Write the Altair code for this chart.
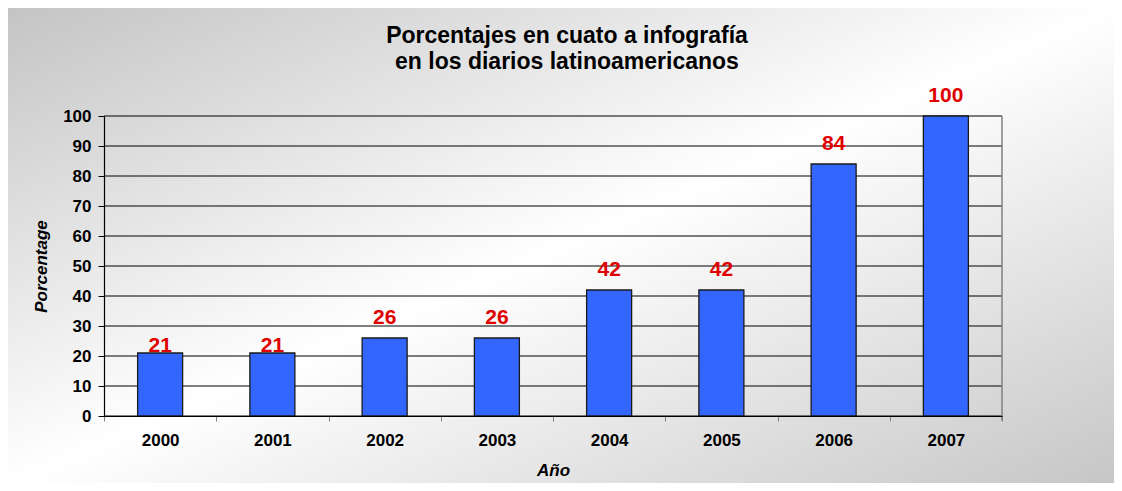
import altair as alt
import pandas as pd

years = ["2000", "2001", "2002", "2003", "2004", "2005", "2006", "2007"]
values = [21, 21, 26, 26, 42, 42, 84, 100]
y_ticks = [0, 10, 20, 30, 40, 50, 60, 70, 80, 90, 100]
title_lines = ["Porcentajes en cuato a infografía", "en los diarios latinoamericanos"]
y_title = "Porcentage"
x_title = "Año"

df = pd.DataFrame({"year": years, "value": values})
grid_df = pd.DataFrame({"value": y_ticks})
one = pd.DataFrame({"k": [0]})

FONT = "Liberation Sans"
W, H = 898, 300

gradient = alt.LinearGradient(
    gradient="linear", x1=0, y1=0, x2=1, y2=1,
    stops=[alt.GradientStop(offset=0, color="#c4c4c4"),
           alt.GradientStop(offset=0.5, color="#ffffff"),
           alt.GradientStop(offset=1, color="#c6c6c6")],
)

bg = alt.Chart(one).mark_rect(
    fill=gradient, stroke="#222222", strokeWidth=1.5
).encode(
    x=alt.value(-97), x2=alt.value(1012), y=alt.value(-109), y2=alt.value(369)
)

title_style = dict(font=FONT, fontSize=23, fontWeight="bold", color="#000000", align="center", baseline="alphabetic")
title1 = alt.Chart(one).mark_text(**title_style).encode(
    x=alt.value(463), y=alt.value(-73), text=alt.value(title_lines[0]))
title2 = alt.Chart(one).mark_text(**title_style).encode(
    x=alt.value(463), y=alt.value(-47), text=alt.value(title_lines[1]))

y_enc = alt.Y(
    "value:Q",
    scale=alt.Scale(domain=[0, 100], nice=False),
    axis=alt.Axis(
        title=y_title, values=y_ticks, labelOverlap=False, grid=False, zindex=2,
    ),
)
x_enc = alt.X(
    "year:N", sort=years,
    scale=alt.Scale(paddingInner=0, paddingOuter=0),
    axis=alt.Axis(title=x_title, labelAngle=0, tickBand="extent", grid=False, zindex=2),
)

grid = alt.Chart(grid_df).mark_rule(color="#000000", strokeWidth=1).encode(
    y=y_enc, x=alt.value(0), x2=alt.value(W),
)
right_edge = alt.Chart(one).mark_rule(color="#808080", strokeWidth=1.5).encode(
    x=alt.value(W), y=alt.value(0), y2=alt.value(H + 5))

base = alt.Chart(df)
bars = base.mark_bar(size=45, color="#3366FF", stroke="#1a1a1a", strokeWidth=1.3).encode(x=x_enc, y=y_enc)

label_style = dict(font=FONT, fontSize=21, fontWeight="bold", color="#E00000", align="center", baseline="alphabetic")
labels_hi = base.transform_filter(alt.datum.value > 21).mark_text(dy=-14, **label_style).encode(
    x=x_enc, y=y_enc, text="value:Q")
labels_lo = base.transform_filter(alt.datum.value <= 21).mark_text(dy=-1, **label_style).encode(
    x=x_enc, y=y_enc, text="value:Q")

chart = alt.layer(bg, grid, right_edge, bars, labels_hi, labels_lo, title1, title2).properties(
    width=W, height=H,
    autosize=alt.AutoSizeParams(type="none"),
    padding={"left": 96, "top": 108, "right": 112, "bottom": 67},
).configure_view(
    stroke=None
).configure(
    background="transparent"
).configure_axis(
    titleFont=FONT, titleFontSize=17, titleFontWeight="bold", titleFontStyle="italic", titleColor="#000000",
    labelFont=FONT, labelFontSize=17, labelFontWeight="bold", labelColor="#000000",
    domainColor="#000000", domainWidth=1.2, labelOverlap=False,
).configure_axisY(
    titlePadding=12, labelPadding=7, tickSize=6, tickColor="#000000",
).configure_axisX(
    titlePadding=14, labelPadding=11, tickSize=5, tickColor="#808080",
)

chart.save("out.html", embed_options={"renderer": "svg", "actions": False})
